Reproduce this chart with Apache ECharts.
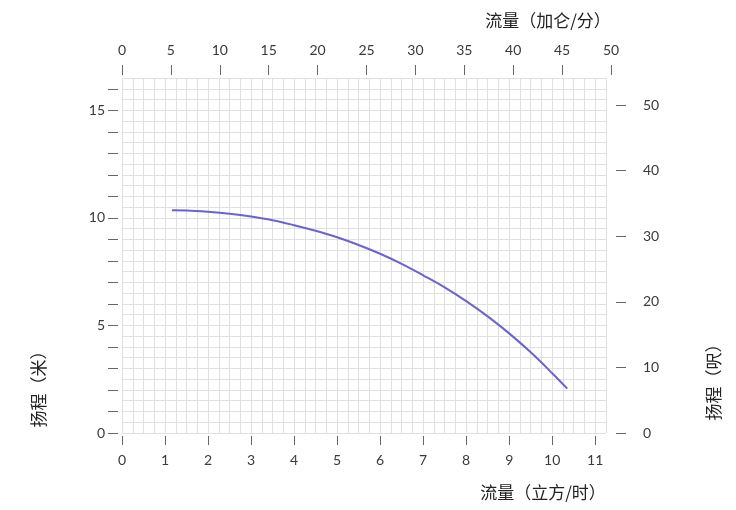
<!DOCTYPE html>
<html>
<head>
<meta charset="utf-8">
<script src="https://cdn.jsdelivr.net/npm/echarts@6/dist/echarts.min.js"></script>
<style>
html,body{margin:0;padding:0;background:#fff;}
#c{width:736px;height:510px;}
</style>
</head>
<body>
<div id="c"></div>
<script>
// Data (flow m³/h, head m)
var flowM3h = [1.16, 1.5, 2.0, 2.5, 3.0, 3.5, 4.0, 4.5, 5.0, 5.5, 6.0, 6.5, 7.0, 7.5, 8.0, 8.5, 9.0, 9.5, 10.0, 10.35];
var headM   = [10.35, 10.34, 10.28, 10.19, 10.06, 9.89, 9.66, 9.40, 9.10, 8.74, 8.33, 7.86, 7.33, 6.77, 6.13, 5.42, 4.63, 3.75, 2.78, 2.06];

// Tick labels
var bottomTicks = [0,1,2,3,4,5,6,7,8,9,10,11];
var topTicks = [0,5,10,15,20,25,30,35,40,45,50];
var leftTicks = [0,1,2,3,4,5,6,7,8,9,10,11,12,13,14,15,16];
var leftLabels = [0,5,10,15];
var rightTicks = [0,10,20,30,40,50];

var titleTop = '流量（加仑/分）';
var titleBottom = '流量（立方/时）';
var titleLeft = '扬程（米）';
var titleRight = '扬程（呎）';

var X_MAX = 11.25, Y_MAX = 16.5;
var GPM_PER_M3H = 4.4029, FT_PER_M = 3.28084;

var lineData = flowM3h.map(function(q, i){ return [q, headM[i]]; });

var labelFont = { color: '#3a3a3a', fontSize: 14, fontFamily: 'Lato, "DejaVu Sans", sans-serif' };
var tickStyle = { color: '#666', width: 1 };
var gridLineStyle = { color: '#e0e0e0', width: 1 };
var cjk = '"Noto Sans CJK SC", sans-serif';

var chart = echarts.init(document.getElementById('c'), null, {renderer: 'canvas'});
var pxPerUnit = 484 / X_MAX;
chart.setOption({
  animation: false,
  backgroundColor: '#ffffff',
  grid: [
    { left: 122, top: 78, width: 484, height: 355 },
    { left: 122, top: 78, width: Math.round(50 / GPM_PER_M3H * pxPerUnit), height: 355 }
  ],
  xAxis: [
    { // bottom labelled axis (data axis)
      type: 'value', gridIndex: 0, position: 'bottom', min: 0, max: X_MAX, offset: 3,
      axisLine: { show: false, onZero: false },
      axisTick: { show: true, length: 9, lineStyle: tickStyle, customValues: bottomTicks },
      axisLabel: Object.assign({ margin: 17, customValues: bottomTicks }, labelFont),
      splitLine: { show: false }
    },
    { // grid lines
      type: 'value', gridIndex: 0, position: 'bottom', min: 0, max: X_MAX, interval: 0.25,
      axisLine: { show: false, onZero: false }, axisTick: { show: false }, axisLabel: { show: false },
      splitLine: { show: true, lineStyle: gridLineStyle }
    },
    { // top gallons axis
      type: 'value', gridIndex: 1, position: 'top', min: 0, max: 50, offset: 3,
      axisLine: { show: false, onZero: false },
      axisTick: { show: true, length: 10, lineStyle: tickStyle, customValues: topTicks },
      axisLabel: Object.assign({ margin: 18, customValues: topTicks }, labelFont),
      splitLine: { show: false }
    }
  ],
  yAxis: [
    { // left labelled axis (data axis)
      type: 'value', gridIndex: 0, position: 'left', min: 0, max: Y_MAX, offset: 4,
      axisLine: { show: false, onZero: false },
      axisTick: { show: true, length: 10, lineStyle: tickStyle, customValues: leftTicks },
      axisLabel: Object.assign({ margin: 13, customValues: leftLabels }, labelFont),
      splitLine: { show: false }
    },
    { // grid lines
      type: 'value', gridIndex: 0, position: 'left', min: 0, max: Y_MAX, interval: 0.5,
      axisLine: { show: false, onZero: false }, axisTick: { show: false }, axisLabel: { show: false },
      splitLine: { show: true, lineStyle: gridLineStyle }
    },
    { // right feet axis
      type: 'value', gridIndex: 0, position: 'right', min: 0, max: Y_MAX * FT_PER_M, offset: 10,
      axisLine: { show: false, onZero: false },
      axisTick: { show: true, length: 10, lineStyle: tickStyle, customValues: rightTicks },
      axisLabel: Object.assign({ margin: 27, customValues: rightTicks }, labelFont),
      splitLine: { show: false }
    },
    { // hidden y for grid 1
      type: 'value', gridIndex: 1, min: 0, max: Y_MAX, show: false
    }
  ],
  series: [{
    type: 'line', xAxisIndex: 0, yAxisIndex: 0,
    data: lineData, smooth: 0.4, showSymbol: false, symbol: 'none',
    lineStyle: { color: '#6b63cf', width: 2 }
  }],
  graphic: [
    { type: 'text', x: 548, y: 21, style: { text: titleTop, font: '17px ' + cjk, fill: '#222', textAlign: 'center', textVerticalAlign: 'middle' } },
    { type: 'text', x: 543, y: 493, style: { text: titleBottom, font: '17px ' + cjk, fill: '#222', textAlign: 'center', textVerticalAlign: 'middle' } },
    { type: 'text', x: 39, y: 385, rotation: Math.PI / 2, style: { text: titleLeft, font: '17px ' + cjk, fill: '#222', textAlign: 'center', textVerticalAlign: 'middle' } },
    { type: 'text', x: 714, y: 378, rotation: Math.PI / 2, style: { text: titleRight, font: '17px ' + cjk, fill: '#222', textAlign: 'center', textVerticalAlign: 'middle' } }
  ]
});
</script>
</body>
</html>
